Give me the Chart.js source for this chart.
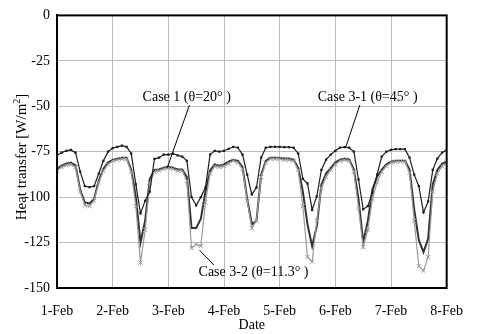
<!DOCTYPE html>
<html>
<head>
<meta charset="utf-8">
<script src="https://cdn.jsdelivr.net/npm/chart.js@4/dist/chart.umd.min.js"></script>
<style>
    html, body { margin: 0; padding: 0; background: #fff; }
    #wrap { width: 478px; height: 334px; position: relative; }
</style>
</head>
<body>
<div id="wrap"><canvas id="chart"></canvas></div>
<script>
// Data: one value every 2 hours, 1-Feb 00:00 .. 8-Feb 00:00
const hourStep = 2;
const tickLabels = ['1-Feb', '2-Feb', '3-Feb', '4-Feb', '5-Feb', '6-Feb', '7-Feb', '8-Feb'];
const yTicks = [-150, -125, -100, -75, -50, -25, 0];

// Case 3-1 (θ=45°)
const case31 = [
    -77, -75.5, -74.5, -74, -75.5, -86, -94, -94.5, -94, -87, -80, -75,
    -73, -72.3, -71.7, -72.3, -76, -93, -109, -102, -97, -79, -78.3, -76.6,
    -76.6, -76, -77, -77.7, -80, -100, -104.5, -100, -94.7, -76.6, -74.5, -75,
    -74.5, -73.4, -72.3, -72.8, -76.6, -87.6, -98.5, -94.7, -78.3, -72.8, -72.3, -72.3,
    -72.3, -72.5, -72.5, -72.8, -76, -90, -92.5, -107, -99.6, -85, -79.4, -76.6,
    -74.5, -72.8, -72.5, -72.8, -75, -90.3, -106.7, -105, -97.4, -87.6, -77.7, -75,
    -74, -73.6, -73.6, -73.6, -78.3, -87.6, -94, -108.4, -102.4, -85, -78.8, -75.5,
    -74
];

// Case 1 (θ=20°)
const case1 = [
    -84.5, -82.7, -81.6, -81, -82.5, -96, -103, -103.5, -101, -91, -84.5, -81,
    -79.5, -78.8, -78.3, -78.3, -85, -100, -125, -113, -90, -85, -84.8, -83.8,
    -83.2, -83.8, -84.8, -84.8, -89, -117, -117, -112, -97, -85.5, -82, -82.7,
    -82, -80.5, -79.4, -80, -83.5, -101, -115, -113, -88, -80, -78.3, -78.3,
    -78.5, -78.8, -78.8, -79.4, -84, -97, -115, -127, -116, -93, -87, -84,
    -81, -79.4, -78.8, -79.4, -84.8, -101.3, -124.8, -113.3, -95.8, -88.7, -84.8, -82,
    -80.5, -80, -80, -80, -84.8, -106.7, -123.7, -130.3, -123, -93, -85, -81.6,
    -80.5
];

// Case 3-2 (θ=11.3°)
const case32 = [
    -85.5, -83.5, -82.5, -82, -83.5, -97, -104.5, -105, -102, -92, -85.5, -82,
    -80, -79.5, -79, -79, -86, -105, -136, -118, -92, -86, -85.5, -84.5,
    -84, -84.5, -85.5, -85.5, -91, -128, -126, -127, -103, -87, -83, -83.5,
    -83, -81.5, -80, -81, -84.5, -102, -117, -113, -89, -81, -79, -79,
    -79, -79.5, -79.5, -80, -85, -105, -133, -135.5, -113, -95, -89, -85,
    -82, -80, -79.5, -80, -86, -106, -127.5, -118, -101, -92, -86, -83,
    -81, -80.5, -80.5, -80.5, -86.5, -113, -138, -140.5, -133, -97, -87, -83,
    -81
];

// Text labels with leader lines, in data units (day, W/m2)
const notes = [
    {text: 'Case 1 (θ=20° )', x: 2.33, y: -44.9, from: [2.38, -49.3], to: [1.98, -83.8]},
    {text: 'Case 3-1 (θ=45° )', x: 5.58, y: -44.9, from: [5.44, -49.3], to: [5.19, -72.3]},
    {text: 'Case 3-2 (θ=11.3° )', x: 3.53, y: -141.2, from: [2.82, -137.4], to: [2.56, -129.2]},
];

const FONT = '"Liberation Serif", "Times New Roman", serif';
const toPoints = arr => arr.map((v, i) => ({x: i * hourStep / 24, y: v}));

// Frame, annotations and y title
const extrasPlugin = {
    id: 'extras',
    afterDatasetsDraw(chart) {
        const {ctx, chartArea: a, scales: {x, y}} = chart;
        ctx.save();
        ctx.strokeStyle = '#000';
        ctx.lineWidth = 2;
        ctx.strokeRect(a.left, a.top, a.right - a.left, a.bottom - a.top);

        ctx.lineWidth = 1;
        ctx.fillStyle = '#000';
        ctx.font = `14px ${FONT}`;
        ctx.textAlign = 'center';
        ctx.textBaseline = 'middle';
        notes.forEach(n => {
            ctx.beginPath();
            ctx.moveTo(x.getPixelForValue(n.from[0]), y.getPixelForValue(n.from[1]));
            ctx.lineTo(x.getPixelForValue(n.to[0]), y.getPixelForValue(n.to[1]));
            ctx.stroke();
            ctx.fillText(n.text, x.getPixelForValue(n.x), y.getPixelForValue(n.y));
        });

        // y axis title with superscript
        ctx.translate(22, 157);
        ctx.rotate(-Math.PI / 2);
        ctx.font = `15px ${FONT}`;
        const main = 'Heat transfer [W/m';
        const wMain = ctx.measureText(main).width;
        ctx.font = `10px ${FONT}`;
        const wSup = ctx.measureText('2').width;
        ctx.font = `15px ${FONT}`;
        const wEnd = ctx.measureText(']').width;
        let sx = -(wMain + wSup + wEnd) / 2;
        ctx.textAlign = 'left';
        ctx.fillText(main, sx, 0);
        sx += wMain;
        ctx.font = `10px ${FONT}`;
        ctx.fillText('2', sx, -5);
        sx += wSup;
        ctx.font = `15px ${FONT}`;
        ctx.fillText(']', sx, 0);
        ctx.restore();
    }
};

new Chart(document.getElementById('chart'), {
    type: 'line',
    data: {
        // first dataset ends up on top
        datasets: [
            {
                label: 'Case 3-1 (θ=45°)',
                data: toPoints(case31),
                borderColor: '#1e1e1e',
                backgroundColor: '#1e1e1e',
                borderWidth: 1.2,
                pointStyle: 'rect',
                pointRadius: 1.6,
                pointBorderWidth: 0,
            },
            {
                label: 'Case 3-2 (θ=11.3°)',
                data: toPoints(case32),
                borderColor: '#9a9a9a',
                backgroundColor: '#9a9a9a',
                borderWidth: 1.2,
                pointStyle: 'crossRot',
                pointRadius: 3,
                pointBorderWidth: 1,
            },
            {
                label: 'Case 1 (θ=20°)',
                data: toPoints(case1),
                borderColor: '#333',
                backgroundColor: '#333',
                borderWidth: 2,
                pointRadius: 0,
            },
        ]
    },
    options: {
        responsive: true,
        maintainAspectRatio: false,
        animation: false,
        devicePixelRatio: 1,
        layout: {padding: {left: 0, top: 15, right: 22, bottom: 0}},
        plugins: {legend: {display: false}, tooltip: {enabled: false}},
        scales: {
            x: {
                type: 'linear',
                min: 0,
                max: tickLabels.length - 1,
                afterBuildTicks: s => { s.ticks = tickLabels.map((_, i) => ({value: i})); },
                afterFit: s => { s.height = 46; },
                ticks: {
                    callback: v => tickLabels[v],
                    color: '#000',
                    font: {family: FONT, size: 14},
                    padding: 15,
                    maxRotation: 0,
                },
                grid: {color: '#bdbdbd', lineWidth: 1, drawTicks: false},
                border: {color: '#000', width: 2},
                title: {display: true, text: 'Date', color: '#000', font: {family: FONT, size: 14}, padding: {top: 0, bottom: 0}},
            },
            y: {
                min: yTicks[0],
                max: yTicks[yTicks.length - 1],
                afterBuildTicks: s => { s.ticks = yTicks.map(v => ({value: v})); },
                afterFit: s => { s.width = 57; },
                ticks: {color: '#000', font: {family: FONT, size: 14}, padding: 7},
                grid: {color: '#bdbdbd', lineWidth: 1, drawTicks: false},
                border: {color: '#000', width: 2},
            }
        }
    },
    plugins: [extrasPlugin]
});
</script>
</body>
</html>
